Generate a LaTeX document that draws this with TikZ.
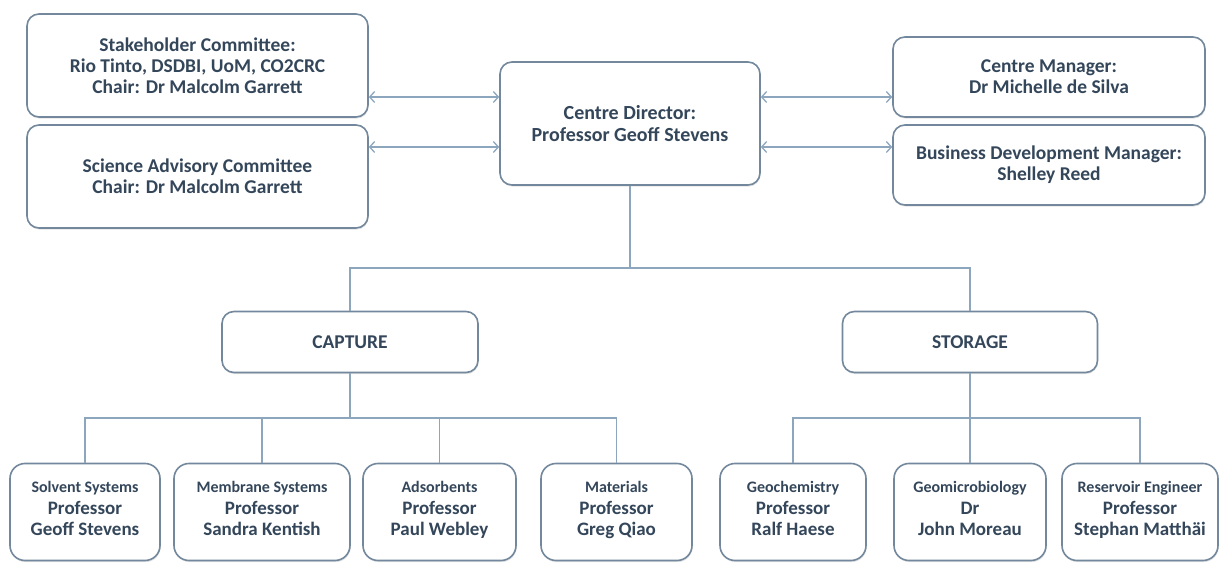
\documentclass[tikz,border=0pt]{standalone}
\usepackage{fontspec}
\setmainfont{Carlito}
\usetikzlibrary{arrows.meta, shadows}
\definecolor{edge}{HTML}{73889C}
\definecolor{wire}{HTML}{8CA6BE}
\definecolor{ink}{HTML}{34465A}
\newcommand{\unit}[1]{{\fontsize{16}{18}\selectfont #1}}

\begin{document}
\begin{tikzpicture}[x=1pt,y=-1pt,
  box/.style={rectangle,draw=edge,line width=1.6pt,fill=white,rounded corners=12pt, align=center,text=ink,font=\fontsize{19.5}{21}\selectfont\bfseries, drop shadow={shadow xshift=0.6pt,shadow yshift=-1.6pt,opacity=0.22}},
  team/.style={box,rounded corners=15pt,minimum height=97pt,font=\fontsize{19}{21.5}\selectfont\bfseries, execute at begin node=\rule{0pt}{27pt}, execute at end node=\strut},
  link/.style={draw=wire,line width=1.3pt},
  arr/.style={link,{Straight Barb[length=5pt,width=11pt]}-{Straight Barb[length=5pt,width=11pt]}}
]
  \useasboundingbox (0,0) rectangle (1227,564);
  % top row
  \node[box,minimum width=341pt,minimum height=103pt](stake) at (197.5,65.5) {Stakeholder Committee:\\Rio Tinto, DSDBI, UoM, CO2CRC\\Chair: Dr Malcolm Garrett};
  \node[box,minimum width=341pt,minimum height=103pt](sac)   at (197.5,176.5) {Science Advisory Committee\\Chair: Dr Malcolm Garrett};
  \node[box,minimum width=260pt,minimum height=123pt,font=\fontsize{20}{22}\selectfont\bfseries](dir) at (630,123.5) {Centre Director:\\Professor Geoff Stevens};
  \node[box,minimum width=312pt,minimum height=80pt] (mgr)   at (1049,77) {Centre Manager:\\Dr Michelle de Silva};
  \node[box,minimum width=312pt,minimum height=80pt] (bdm)   at (1049,165) {Business Development Manager:\\Shelley Reed};
  % programmes
  \node[box,minimum width=256pt,minimum height=61pt] (cap)   at (350,342) {CAPTURE};
  \node[box,minimum width=255pt,minimum height=61pt] (sto)   at (970,342) {STORAGE};
  % research teams
  \node[team,minimum width=150pt](sol) at (85,512)    {\unit{Solvent Systems}\\Professor\\Geoff Stevens};
  \node[team,minimum width=176pt](mem) at (262,512)   {\unit{Membrane Systems}\\Professor\\Sandra Kentish};
  \node[team,minimum width=153pt](ads) at (439.5,512) {\unit{Adsorbents}\\Professor\\Paul Webley};
  \node[team,minimum width=151pt](mat) at (616.5,512) {\unit{Materials}\\Professor\\Greg Qiao};
  \node[team,minimum width=146pt](geo) at (793,512)   {\unit{Geochemistry}\\Professor\\Ralf Haese};
  \node[team,minimum width=152pt](mic) at (970,512)   {\unit{Geomicrobiology}\\Dr\\John Moreau};
  \node[team,minimum width=156pt](res) at (1140,512)  {\unit{Reservoir Engineer}\\Professor\\Stephan Matthäi};
  % junctions
  \coordinate (hi) at (0,97);
  \coordinate (lo) at (0,147);
  \coordinate (split) at (630,268);
  \coordinate (cbus) at (350,418);
  \coordinate (sbus) at (970,418);
  % links
  \draw[arr](stake.east |- hi) -- (dir.west |- hi);
  \draw[arr](sac.east |- lo) -- (dir.west |- lo);
  \draw[arr](dir.east |- hi) -- (mgr.west |- hi);
  \draw[arr](dir.east |- lo) -- (bdm.west |- lo);
  \draw[link](dir.south) -- (split);
  \draw[link](cap.north) |- (split) -| (sto.north);
  \draw[link](cap.south) -- (cbus);
  \draw[link](sto.south) -- (sbus);
  \foreach \n in {sol,mem,ads,mat} \draw[link](\n.north) |- (cbus);
  \foreach \n in {geo,mic,res} \draw[link](\n.north) |- (sbus);
\end{tikzpicture}
\end{document}
